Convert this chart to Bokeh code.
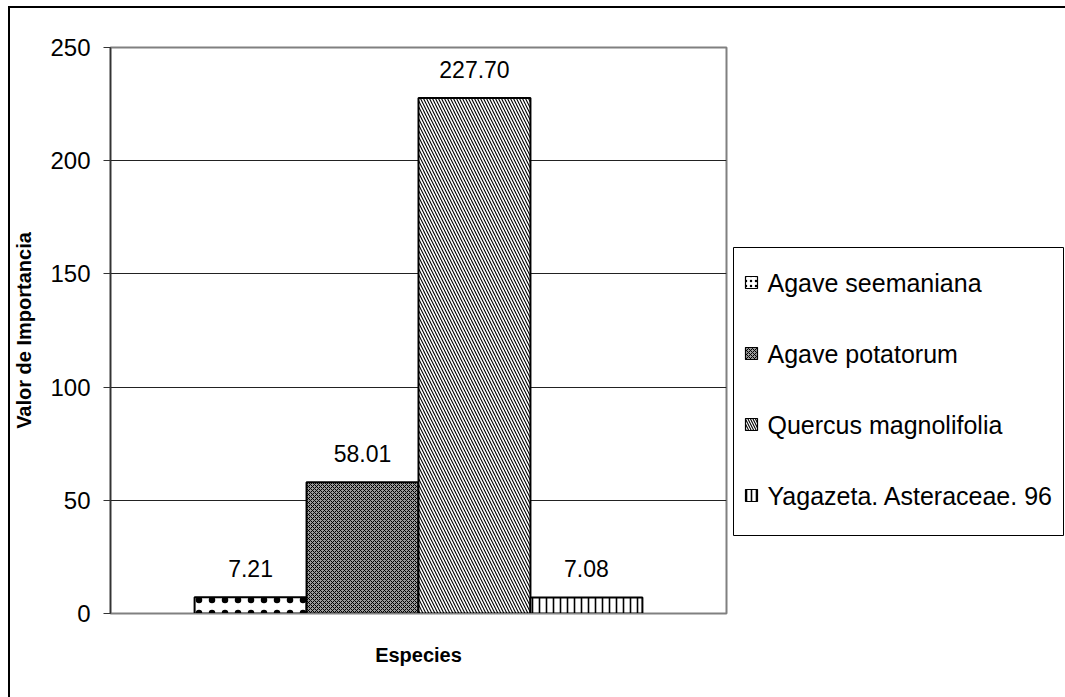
from bokeh.plotting import figure
from bokeh.layouts import row
from bokeh.models import (FactorRange, Range1d, LabelSet, ColumnDataSource, FixedTicker)
from bokeh.core.properties import value
from bokeh.embed import file_html
from bokeh.resources import INLINE

# ---- data ----
species = ["Agave  seemaniana", "Agave potatorum", "Quercus magnolifolia", "Yagazeta. Asteraceae. 96"]
importance = [7.21, 58.01, 227.70, 7.08]
value_labels = ["7.21", "58.01", "227.70", "7.08"]
y_ticks = [0, 50, 100, 150, 200, 250]

# ---- styles (one per bar) ----
fills = ["white", "#9a9a9a", "white", "white"]
hatches = ["dot", "diagonal_cross", "left_diagonal_line", "vertical_line"]
hatch_scales = [13, 4, 6, 7]
hatch_weights = [0.8, 1.0, 1.1, 1.6]

FONT = "Liberation Sans"
H = 689
FRAME_H = 566   # plot-area height in px (frames of the row are aligned)

p = figure(width=718, height=H, output_backend="svg", toolbar_location=None,
           x_range=FactorRange(factors=species, range_padding=0.3756),
           y_range=Range1d(0, 250),
           min_border_left=97, min_border_right=2, min_border_top=39, min_border_bottom=84)
p.background_fill_color = "white"
p.border_fill_color = "white"
p.outline_line_color = "#808080"
p.outline_line_width = 2

for i, name in enumerate(species):
    p.vbar(x=[name], top=[importance[i]], width=1.0, bottom=0,
           fill_color=fills[i], line_color="black", line_width=2,
           hatch_pattern=hatches[i], hatch_scale=hatch_scales[i],
           hatch_weight=hatch_weights[i], hatch_color="black")

src = ColumnDataSource(dict(x=species, y=importance, t=value_labels))
p.add_layout(LabelSet(x="x", y="y", text="t", source=src, y_offset=20,
                      text_align="center", text_baseline="alphabetic",
                      text_font=value(FONT), text_font_size="23px", text_color="black"))

# axes
p.yaxis.ticker = FixedTicker(ticks=y_ticks)
p.yaxis.major_tick_out = 7
p.yaxis.major_tick_in = 0
p.yaxis.minor_tick_out = 0
p.yaxis.minor_tick_in = 0
p.yaxis.major_tick_line_color = "#333333"
p.yaxis.axis_line_color = "#333333"
p.yaxis.axis_line_width = 1.5
p.yaxis.major_label_standoff = 13
p.yaxis.major_label_text_font = FONT
p.yaxis.major_label_text_font_size = "24px"
p.yaxis.major_label_text_color = "black"
p.yaxis.axis_label = "Valor de Importancia"
p.yaxis.axis_label_text_font = FONT
p.yaxis.axis_label_text_font_style = "bold"
p.yaxis.axis_label_text_font_size = "20px"
p.yaxis.axis_label_text_color = "black"
p.yaxis.axis_label_standoff = 12

p.xaxis.ticker = FixedTicker(ticks=[])
p.xaxis.major_tick_out = 0
p.xaxis.major_tick_in = 0
p.xaxis.major_label_text_font_size = "0px"
p.xaxis.axis_line_color = "#808080"
p.xaxis.axis_label = "Especies"
p.xaxis.axis_label_text_font = FONT
p.xaxis.axis_label_text_font_style = "bold"
p.xaxis.axis_label_text_font_size = "20px"
p.xaxis.axis_label_text_color = "black"
p.xaxis.axis_label_standoff = 30

p.xgrid.grid_line_color = None
p.ygrid.grid_line_color = "#222222"
p.ygrid.grid_line_width = 1
p.ygrid.ticker = FixedTicker(ticks=y_ticks)

# ---- legend panel (pixel-scaled figure; its frame aligns with the plot area) ----
LW = 337
lg = figure(width=LW, height=H, output_backend="svg", toolbar_location=None,
            x_range=Range1d(0, LW), y_range=Range1d(0, FRAME_H),
            x_axis_location=None, y_axis_location=None,
            min_border=0, min_border_left=0, min_border_right=0,
            min_border_top=0, min_border_bottom=0)
lg.grid.visible = False
lg.outline_line_color = None
lg.background_fill_color = "white"
lg.border_fill_color = "white"

box_left, box_right, box_bottom, box_top = 5, 335, 78, 366
lg.quad(left=[box_left], right=[box_right], bottom=[box_bottom], top=[box_top],
        fill_color="white", line_color="black", line_width=1)
first_y, pitch, glyph_x, glyph_size, text_x = 331, 71, 23, 12, 39
ys = [first_y - i * pitch for i in range(len(species))]
for i, name in enumerate(species):
    lg.rect(x=[glyph_x], y=[ys[i]], width=glyph_size, height=glyph_size,
            fill_color=fills[i], line_color="black", line_width=1.2,
            hatch_pattern=hatches[i], hatch_scale=min(hatch_scales[i], 5),
            hatch_weight=hatch_weights[i], hatch_color="black")
lg.text(x=[text_x] * len(species), y=ys, text=species,
        text_font=value(FONT), text_font_size="25px", text_color="black",
        text_baseline="middle", text_align="left")

layout = row(p, lg, spacing=0, margin=(6, 0, 0, 8),
             styles={"border-left": "2px solid #000", "border-top": "2px solid #000"})

open("out.html", "w").write(file_html(layout, INLINE))
